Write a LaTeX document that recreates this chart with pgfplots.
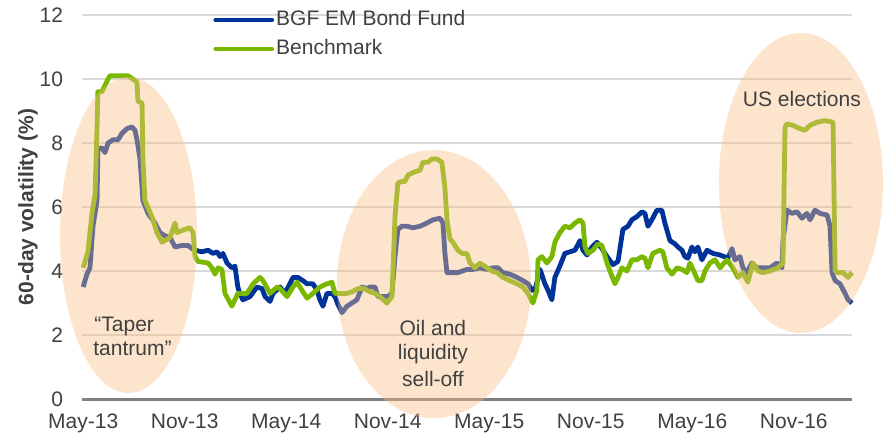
\documentclass[border=0pt]{standalone}
\usepackage{pgfplots}
\pgfplotsset{compat=1.18}
\usepackage{fontspec}
\setmainfont{Liberation Sans}
\definecolor{fundblue}{RGB}{0,51,153}
\definecolor{benchgreen}{RGB}{122,184,0}
\definecolor{peach}{RGB}{248,190,135}
\definecolor{txtgray}{RGB}{64,64,64}
\definecolor{gridgray}{RGB}{217,217,217}
\definecolor{axgray}{RGB}{128,128,128}
\newcommand{\lblfont}{\fontsize{10.5}{12.5}\selectfont}
\begin{document}
\begin{tikzpicture}
\begin{axis}[
  at={(0,0)}, anchor=south west,
  scale only axis, width=385pt, height=192pt,
  xmin=-0.07, xmax=45.44, ymin=0, ymax=12,
  clip=false,
  axis lines*=left,
  x axis line style={draw=axgray, line width=1.5pt, -},
  y axis line style={draw=none},
  major tick length=0pt,
  ytick={0,2,...,12},
  ymajorgrids, grid style={draw=gridgray, line width=0.8pt},
  xtick={0,6,...,42},
  xticklabels={May-13,Nov-13,May-14,Nov-14,May-15,Nov-15,May-16,Nov-16},
  /pgf/number format/assume math mode=true,
  tick label style={font=\lblfont, text=txtgray},
  xticklabel style={yshift=-4pt},
  yticklabel style={xshift=-6pt},
  ylabel={\bfseries 60-day volatility (\%)},
  ylabel style={font=\lblfont, text=txtgray, at={(axis description cs:-0.0701,0.5)}, anchor=center},
  legend style={at={(rel axis cs:0.1701,1)}, anchor=north west, yshift=3.75pt,
    draw=none, fill=none, inner sep=0pt, row sep=2.5pt, font=\lblfont, text=txtgray,
    nodes={inner sep=1pt, text height=7.6pt, text depth=2.4pt}},
  legend cell align=left,
  legend image code/.code={\draw[#1, line cap=round] (0pt,0pt) -- (28pt,0pt);},
]
\addplot[fundblue, line width=2.4pt, line join=round] coordinates {
(0,3.5) (0.22,3.9) (0.40,4.1) (0.58,5.4) (0.82,6.2) (0.87,7.8) (1.11,7.85) (1.29,7.7) (1.47,8.0) (1.76,8.1) (2.06,8.1) (2.29,8.3) (2.59,8.45) (2.88,8.5) (3.06,8.4) (3.18,8.1) (3.36,7.5) (3.53,6.2) (3.83,5.8) (4.24,5.5) (4.54,5.2) (4.83,5.1) (5.13,5.05) (5.43,4.75) (5.84,4.8) (6.19,4.8) (6.43,4.7) (6.61,4.65) (7.02,4.6) (7.38,4.65) (7.67,4.55) (7.91,4.6) (8.09,4.45) (8.26,4.55) (8.50,4.25) (8.79,4.1) (8.97,4.15) (9.14,3.5) (9.26,3.3) (9.44,3.1) (9.86,3.2) (10.27,3.5) (10.57,3.45) (10.75,3.2) (11.04,3.05) (11.22,3.3) (11.63,3.5) (11.93,3.3) (12.40,3.8) (12.69,3.8) (12.99,3.7) (13.23,3.6) (13.58,3.6) (13.82,3.4) (13.99,3.1) (14.17,2.9) (14.41,3.3) (14.70,3.3) (14.88,3.2) (15.06,2.95) (15.30,2.7) (15.59,2.9) (15.89,3.0) (16.18,3.1) (16.48,3.5) (16.78,3.45) (16.95,3.5) (17.25,3.5) (17.42,3.2) (17.72,3.2) (18.01,3.2) (18.25,3.3) (18.43,4.45) (18.60,5.3) (18.84,5.4) (19.14,5.4) (19.49,5.35) (19.91,5.4) (20.32,5.5) (20.67,5.6) (21.09,5.65) (21.26,5.5) (21.38,4.55) (21.50,3.95) (21.79,3.95) (22.15,3.95) (22.68,4.05) (23.03,4.05) (23.45,4.1) (23.86,4.05) (24.22,4.1) (24.52,4.1) (24.81,3.95) (25.22,3.9) (25.64,3.8) (25.99,3.7) (26.29,3.6) (26.53,3.4) (26.70,3.4) (27.00,4.05) (27.29,3.6) (27.47,3.4) (27.70,3.1) (27.88,3.8) (28.17,4.15) (28.47,4.55) (28.77,4.6) (29.07,4.65) (29.36,4.95) (29.54,4.65) (29.78,4.5) (30.07,4.75) (30.37,4.9) (30.66,4.7) (30.96,4.45) (31.31,4.2) (31.61,4.3) (31.90,5.3) (32.20,5.4) (32.43,5.6) (32.73,5.7) (33.02,5.85) (33.20,5.8) (33.38,5.4) (33.61,5.6) (33.91,5.9) (34.20,5.9) (34.38,5.5) (34.68,4.95) (34.97,4.85) (35.15,4.75) (35.39,4.65) (35.56,4.45) (35.74,4.4) (35.98,4.75) (36.15,4.6) (36.33,4.75) (36.57,4.35) (36.87,4.65) (37.22,4.55) (37.64,4.5) (38.11,4.4) (38.35,4.7) (38.52,4.35) (38.82,4.45) (38.99,4.1) (39.23,3.95) (39.52,4.25) (39.82,4.1) (40.17,4.1) (40.59,4.1) (41.00,4.25) (41.30,4.1) (41.36,4.95) (41.60,5.9) (41.89,5.8) (42.19,5.85) (42.48,5.65) (42.78,5.8) (42.96,5.6) (43.25,5.9) (43.55,5.8) (43.97,5.75) (44.14,5.4) (44.26,3.95) (44.44,3.7) (44.73,3.6) (45.03,3.3) (45.21,3.1) (45.44,3.0)
};
\addlegendentry{BGF EM Bond Fund}
\addplot[benchgreen, line width=2.4pt, line join=round] coordinates {
(0,4.1) (0.28,4.6) (0.52,5.8) (0.70,6.4) (0.82,8.5) (0.87,9.6) (1.11,9.6) (1.47,10.0) (1.58,10.1) (2.06,10.1) (2.65,10.1) (2.94,10.0) (3.18,9.9) (3.24,9.3) (3.48,9.25) (3.53,7.5) (3.65,6.2) (4.06,5.7) (4.36,5.2) (4.66,4.9) (5.13,5.05) (5.43,5.5) (5.54,5.2) (6.02,5.3) (6.31,5.35) (6.49,5.2) (6.61,4.45) (6.78,4.3) (7.38,4.25) (7.61,4.1) (7.79,3.9) (7.97,4.1) (8.20,4.05) (8.38,3.3) (8.79,2.9) (9.14,3.3) (9.26,3.3) (9.68,3.3) (10.04,3.6) (10.45,3.8) (10.63,3.7) (11.04,3.3) (11.46,3.5) (11.63,3.45) (12.05,3.2) (12.40,3.5) (12.64,3.65) (12.93,3.4) (13.23,3.15) (13.58,3.3) (13.99,3.5) (14.41,3.6) (14.70,3.65) (14.88,3.3) (15.18,3.3) (15.59,3.3) (15.89,3.35) (16.24,3.45) (16.60,3.45) (16.95,3.35) (17.25,3.3) (17.54,3.2) (17.95,3.0) (18.25,3.2) (18.43,5.7) (18.60,6.75) (18.84,6.8) (19.02,6.8) (19.20,7.0) (19.61,7.1) (19.91,7.15) (20.08,7.4) (20.38,7.4) (20.61,7.5) (20.91,7.5) (21.20,7.4) (21.38,6.6) (21.50,5.6) (21.68,5.0) (21.85,4.9) (22.15,4.65) (22.39,4.55) (22.68,4.55) (22.86,4.25) (23.15,4.1) (23.45,4.25) (23.86,4.1) (24.16,4.0) (24.46,3.95) (24.81,3.8) (25.22,3.7) (25.64,3.6) (25.99,3.5) (26.29,3.3) (26.58,3.0) (26.82,3.4) (26.88,4.35) (27.11,4.45) (27.41,4.25) (27.70,4.45) (27.88,4.9) (28.17,5.2) (28.47,5.4) (28.77,5.35) (29.07,5.5) (29.36,5.6) (29.54,5.5) (29.66,4.75) (29.83,4.55) (30.13,4.65) (30.42,4.85) (30.66,4.8) (30.96,4.25) (31.13,4.0) (31.43,3.6) (31.61,3.8) (31.84,4.1) (32.14,4.0) (32.43,4.35) (32.73,4.35) (33.02,4.45) (33.20,4.4) (33.38,4.1) (33.67,4.55) (34.09,4.65) (34.26,4.6) (34.50,4.1) (34.80,3.9) (35.09,4.1) (35.39,4.05) (35.68,3.95) (35.86,4.25) (36.04,4.05) (36.33,3.7) (36.57,3.7) (36.75,4.0) (37.04,4.25) (37.34,4.35) (37.64,4.1) (38.05,4.35) (38.40,4.1) (38.70,3.8) (38.99,3.95) (39.29,3.65) (39.58,4.25) (39.88,4.0) (40.17,3.95) (40.59,4.0) (41.06,4.1) (41.36,4.25) (41.48,8.5) (41.60,8.6) (41.95,8.55) (42.36,8.45) (42.66,8.4) (42.96,8.55) (43.37,8.65) (43.85,8.7) (44.32,8.65) (44.44,4.0) (44.62,3.95) (44.91,3.95) (45.21,3.8) (45.44,3.95)
};
\addlegendentry{Benchmark}
\fill[peach, fill opacity=0.42] (axis cs:2.68,5.125) ellipse [x radius=34.25pt, y radius=79pt];
\fill[peach, fill opacity=0.42] (axis cs:20.73,3.59) ellipse [x radius=48.5pt, y radius=67pt];
\fill[peach, fill opacity=0.42] (axis cs:42.42,6.75) ellipse [x radius=41pt, y radius=75pt];
\node[font=\lblfont, text=txtgray, anchor=base west, inner sep=0pt] at (axis cs:0.64,2.094) {“Taper};
\node[font=\lblfont, text=txtgray, anchor=base west, inner sep=0pt] at (axis cs:0.58,1.344) {tantrum”};
\node[font=\lblfont, text=txtgray, anchor=base, inner sep=0pt] at (axis cs:20.67,2.0) {Oil and};
\node[font=\lblfont, text=txtgray, anchor=base, inner sep=0pt] at (axis cs:20.67,1.219) {liquidity};
\node[font=\lblfont, text=txtgray, anchor=base, inner sep=0pt] at (axis cs:20.67,0.406) {sell-off};
\node[font=\lblfont, text=txtgray, anchor=base, inner sep=0pt] at (axis cs:42.48,9.156) {US elections};
\end{axis}
\pgfresetboundingbox
\path[use as bounding box] (-41pt,-18.5pt) rectangle (401pt,199.5pt);
\end{tikzpicture}
\end{document}
